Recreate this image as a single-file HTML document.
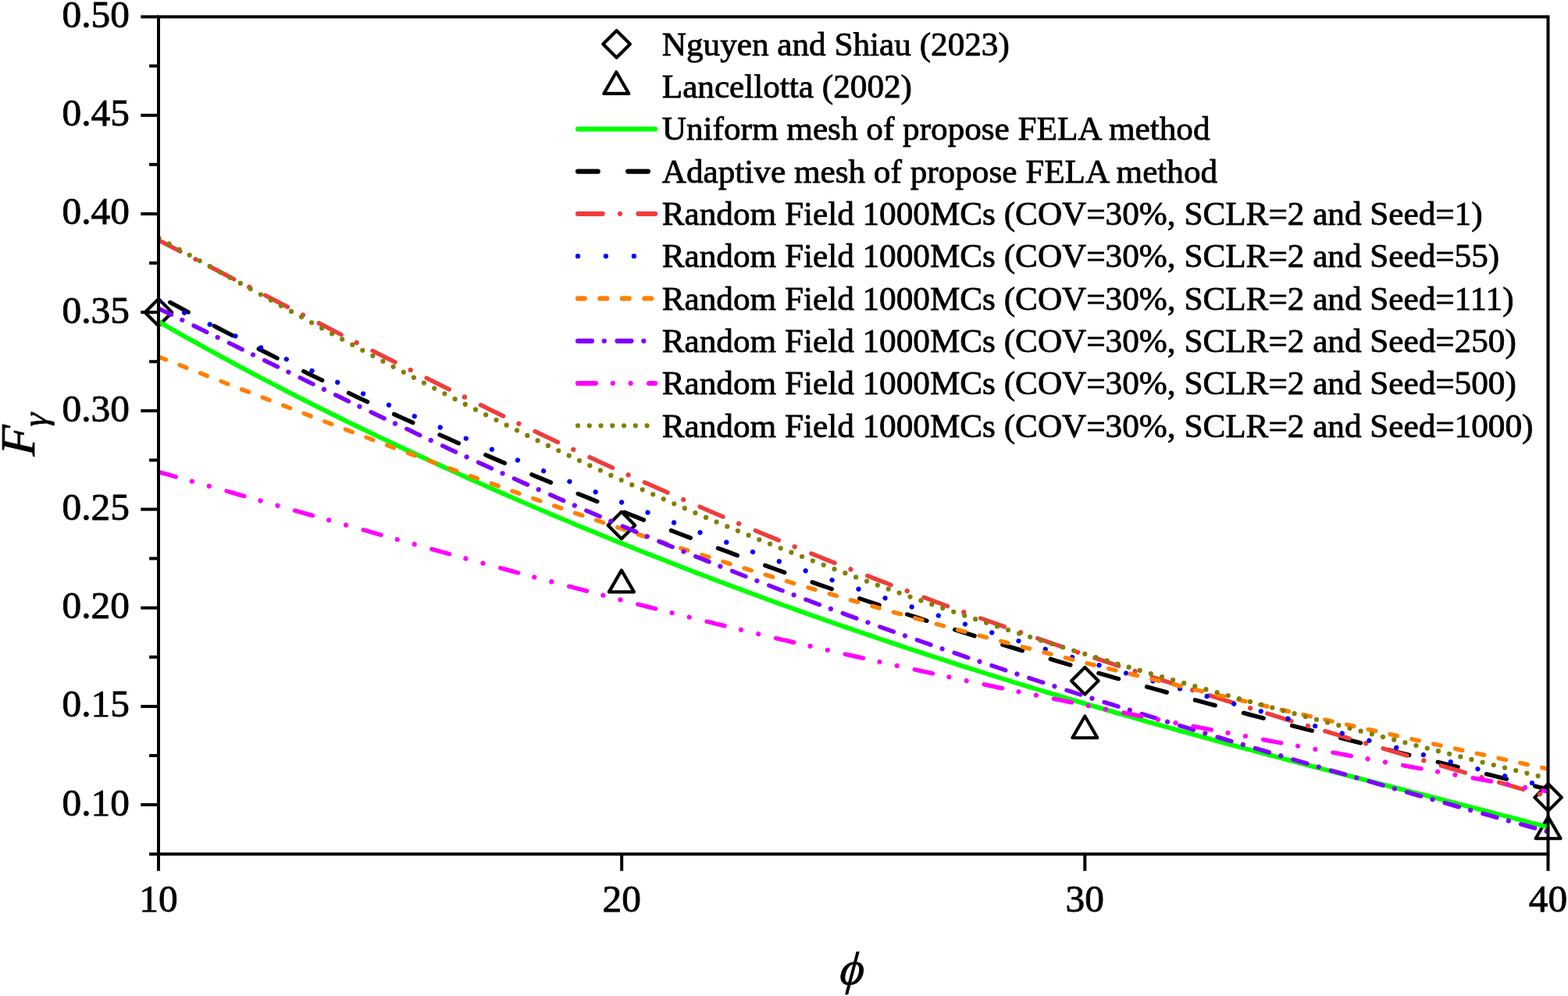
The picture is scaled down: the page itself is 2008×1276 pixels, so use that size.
<!DOCTYPE html>
<html lang="en"><head><meta charset="utf-8"><title>Fγ versus ϕ</title>
<style>html,body{margin:0;padding:0;background:#fff}svg{display:block}text{font-family:"Liberation Serif",serif;fill:#000;stroke:#000;stroke-width:0.85px;stroke-linejoin:round}</style></head><body>
<svg width="2008" height="1276" viewBox="0 0 2008 1276">
<rect width="2008" height="1276" fill="#fff"/>
<g fill="none" stroke="#000" stroke-width="4.17" stroke-linejoin="round">
<path d="M203.00 382.90L220.30 400.20L203.00 417.50L185.70 400.20Z"/>
<path d="M795.90 655.70L813.20 673.00L795.90 690.30L778.60 673.00Z"/>
<path d="M1389.30 855.00L1406.60 872.30L1389.30 889.60L1372.00 872.30Z"/>
<path d="M1982.60 1004.30L1999.90 1021.60L1982.60 1038.90L1965.30 1021.60Z"/>
<path d="M795.90 730.62L811.90 758.34L779.90 758.34Z"/>
<path d="M1389.30 917.52L1405.30 945.24L1373.30 945.24Z"/>
<path d="M1982.60 1046.52L1998.60 1074.24L1966.60 1074.24Z"/>
</g>
<clipPath id="clip"><rect x="203.0" y="21.5" width="1779.5" height="1072.7"/></clipPath>
<g fill="none" stroke-linecap="round" stroke-linejoin="round" clip-path="url(#clip)">
<path stroke="#00ff00" stroke-width="5.9" d="M203.0 412.0L215.8 419.3L228.6 426.6L241.4 433.8L254.2 440.9L267.0 448.0L279.8 454.9L292.6 461.9L305.4 468.8L318.2 475.6L331.0 482.3L343.8 489.0L356.6 495.7L369.4 502.3L382.2 508.8L395.0 515.3L407.8 521.8L420.6 528.1L433.4 534.5L446.2 540.8L459.0 547.0L471.8 553.2L484.6 559.3L497.4 565.4L510.3 571.5L523.1 577.5L535.9 583.5L548.7 589.4L561.5 595.3L574.3 601.1L587.1 606.9L599.9 612.7L612.7 618.4L625.5 624.1L638.3 629.7L651.1 635.3L663.9 640.9L676.7 646.4L689.5 651.9L702.3 657.3L715.1 662.7L727.9 668.1L740.7 673.4L753.5 678.7L766.3 684.0L779.1 689.2L791.9 694.4L804.7 699.5L817.5 704.7L830.3 709.8L843.1 714.8L855.9 719.8L868.7 724.8L881.5 729.8L894.3 734.7L907.1 739.6L919.9 744.4L932.7 749.2L945.5 754.0L958.3 758.8L971.1 763.5L983.9 768.2L996.7 772.9L1009.5 777.5L1022.3 782.1L1035.1 786.7L1047.9 791.2L1060.7 795.7L1073.5 800.2L1086.3 804.6L1099.2 809.0L1112.0 813.4L1124.8 817.8L1137.6 822.1L1150.4 826.4L1163.2 830.7L1176.0 834.9L1188.8 839.1L1201.6 843.3L1214.4 847.4L1227.2 851.6L1240.0 855.6L1252.8 859.7L1265.6 863.7L1278.4 867.8L1291.2 871.7L1304.0 875.7L1316.8 879.6L1329.6 883.5L1342.4 887.4L1355.2 891.2L1368.0 895.1L1380.8 898.9L1393.6 902.6L1406.4 906.4L1419.2 910.1L1432.0 913.8L1444.8 917.5L1457.6 921.2L1470.4 924.8L1483.2 928.4L1496.0 932.0L1508.8 935.6L1521.6 939.1L1534.4 942.6L1547.2 946.1L1560.0 949.6L1572.8 953.1L1585.6 956.6L1598.4 960.0L1611.2 963.4L1624.0 966.8L1636.8 970.2L1649.6 973.6L1662.4 977.0L1675.2 980.3L1688.1 983.7L1700.9 987.0L1713.7 990.3L1726.5 993.6L1739.3 996.9L1752.1 1000.2L1764.9 1003.5L1777.7 1006.8L1790.5 1010.1L1803.3 1013.4L1816.1 1016.7L1828.9 1019.9L1841.7 1023.2L1854.5 1026.5L1867.3 1029.8L1880.1 1033.1L1892.9 1036.4L1905.7 1039.7L1918.5 1043.0L1931.3 1046.3L1944.1 1049.6L1956.9 1053.0L1969.7 1056.4L1982.5 1059.7"/>
<path stroke="#000000" stroke-width="5.5" stroke-dasharray="26.5 37.65" stroke-dashoffset="47.33" d="M203.0 379.3L215.8 386.3L228.6 393.2L241.4 400.1L254.2 407.0L267.0 413.7L279.8 420.5L292.6 427.1L305.4 433.8L318.2 440.3L331.0 446.8L343.8 453.3L356.6 459.7L369.4 466.1L382.2 472.4L395.0 478.7L407.8 484.9L420.6 491.1L433.4 497.2L446.2 503.3L459.0 509.4L471.8 515.4L484.6 521.4L497.4 527.3L510.3 533.2L523.1 539.0L535.9 544.9L548.7 550.6L561.5 556.4L574.3 562.0L587.1 567.7L599.9 573.3L612.7 578.9L625.5 584.4L638.3 589.9L651.1 595.4L663.9 600.8L676.7 606.2L689.5 611.6L702.3 616.9L715.1 622.2L727.9 627.5L740.7 632.7L753.5 637.9L766.3 643.1L779.1 648.2L791.9 653.3L804.7 658.4L817.5 663.4L830.3 668.4L843.1 673.4L855.9 678.3L868.7 683.2L881.5 688.1L894.3 692.9L907.1 697.7L919.9 702.5L932.7 707.2L945.5 712.0L958.3 716.6L971.1 721.3L983.9 725.9L996.7 730.5L1009.5 735.1L1022.3 739.6L1035.1 744.1L1047.9 748.6L1060.7 753.0L1073.5 757.4L1086.3 761.8L1099.2 766.2L1112.0 770.5L1124.8 774.8L1137.6 779.1L1150.4 783.3L1163.2 787.5L1176.0 791.7L1188.8 795.9L1201.6 800.0L1214.4 804.1L1227.2 808.1L1240.0 812.2L1252.8 816.2L1265.6 820.2L1278.4 824.1L1291.2 828.1L1304.0 832.0L1316.8 835.8L1329.6 839.7L1342.4 843.5L1355.2 847.3L1368.0 851.1L1380.8 854.8L1393.6 858.6L1406.4 862.3L1419.2 865.9L1432.0 869.6L1444.8 873.2L1457.6 876.8L1470.4 880.4L1483.2 883.9L1496.0 887.5L1508.8 891.0L1521.6 894.5L1534.4 897.9L1547.2 901.4L1560.0 904.8L1572.8 908.2L1585.6 911.6L1598.4 915.0L1611.2 918.3L1624.0 921.7L1636.8 925.0L1649.6 928.3L1662.4 931.6L1675.2 934.9L1688.1 938.1L1700.9 941.4L1713.7 944.6L1726.5 947.8L1739.3 951.0L1752.1 954.2L1764.9 957.4L1777.7 960.6L1790.5 963.8L1803.3 967.0L1816.1 970.1L1828.9 973.3L1841.7 976.4L1854.5 979.6L1867.3 982.7L1880.1 985.9L1892.9 989.1L1905.7 992.2L1918.5 995.4L1931.3 998.5L1944.1 1001.7L1956.9 1004.9L1969.7 1008.1L1982.5 1011.3"/>
<path stroke="#f03c3c" stroke-width="5.5" stroke-dasharray="32.4 44.99" stroke-dashoffset="0.97" d="M203.0 307.7L215.8 314.3L228.6 320.9L241.4 327.5L254.2 334.1L267.0 340.7L279.8 347.3L292.6 354.0L305.4 360.6L318.2 367.3L331.0 373.9L343.8 380.5L356.6 387.2L369.4 393.8L382.2 400.5L395.0 407.1L407.8 413.7L420.6 420.3L433.4 426.9L446.2 433.5L459.0 440.1L471.8 446.6L484.6 453.2L497.4 459.7L510.3 466.2L523.1 472.7L535.9 479.1L548.7 485.6L561.5 492.0L574.3 498.4L587.1 504.7L599.9 511.1L612.7 517.4L625.5 523.7L638.3 530.0L651.1 536.2L663.9 542.4L676.7 548.6L689.5 554.7L702.3 560.8L715.1 566.9L727.9 572.9L740.7 578.9L753.5 584.9L766.3 590.9L779.1 596.8L791.9 602.7L804.7 608.5L817.5 614.3L830.3 620.1L843.1 625.8L855.9 631.5L868.7 637.2L881.5 642.8L894.3 648.4L907.1 654.0L919.9 659.5L932.7 665.0L945.5 670.5L958.3 675.9L971.1 681.3L983.9 686.6L996.7 691.9L1009.5 697.2L1022.3 702.4L1035.1 707.6L1047.9 712.8L1060.7 717.9L1073.5 723.0L1086.3 728.1L1099.2 733.1L1112.0 738.1L1124.8 743.1L1137.6 748.0L1150.4 752.9L1163.2 757.8L1176.0 762.6L1188.8 767.4L1201.6 772.2L1214.4 776.9L1227.2 781.6L1240.0 786.3L1252.8 790.9L1265.6 795.5L1278.4 800.1L1291.2 804.7L1304.0 809.2L1316.8 813.7L1329.6 818.2L1342.4 822.6L1355.2 827.0L1368.0 831.4L1380.8 835.8L1393.6 840.1L1406.4 844.4L1419.2 848.7L1432.0 853.0L1444.8 857.2L1457.6 861.4L1470.4 865.6L1483.2 869.8L1496.0 873.9L1508.8 878.1L1521.6 882.2L1534.4 886.3L1547.2 890.3L1560.0 894.4L1572.8 898.4L1585.6 902.4L1598.4 906.4L1611.2 910.4L1624.0 914.4L1636.8 918.3L1649.6 922.3L1662.4 926.2L1675.2 930.1L1688.1 934.0L1700.9 937.9L1713.7 941.7L1726.5 945.6L1739.3 949.4L1752.1 953.2L1764.9 957.1L1777.7 960.9L1790.5 964.6L1803.3 968.4L1816.1 972.2L1828.9 976.0L1841.7 979.7L1854.5 983.5L1867.3 987.2L1880.1 990.9L1892.9 994.6L1905.7 998.3L1918.5 1002.0L1931.3 1005.7L1944.1 1009.4L1956.9 1013.1L1969.7 1016.7L1982.5 1020.4"/>
<path stroke="#f03c3c" stroke-width="6.25" stroke-dasharray="0.01 77.38" stroke-dashoffset="23.92" d="M203.0 307.7L215.8 314.3L228.6 320.9L241.4 327.5L254.2 334.1L267.0 340.7L279.8 347.3L292.6 354.0L305.4 360.6L318.2 367.3L331.0 373.9L343.8 380.5L356.6 387.2L369.4 393.8L382.2 400.5L395.0 407.1L407.8 413.7L420.6 420.3L433.4 426.9L446.2 433.5L459.0 440.1L471.8 446.6L484.6 453.2L497.4 459.7L510.3 466.2L523.1 472.7L535.9 479.1L548.7 485.6L561.5 492.0L574.3 498.4L587.1 504.7L599.9 511.1L612.7 517.4L625.5 523.7L638.3 530.0L651.1 536.2L663.9 542.4L676.7 548.6L689.5 554.7L702.3 560.8L715.1 566.9L727.9 572.9L740.7 578.9L753.5 584.9L766.3 590.9L779.1 596.8L791.9 602.7L804.7 608.5L817.5 614.3L830.3 620.1L843.1 625.8L855.9 631.5L868.7 637.2L881.5 642.8L894.3 648.4L907.1 654.0L919.9 659.5L932.7 665.0L945.5 670.5L958.3 675.9L971.1 681.3L983.9 686.6L996.7 691.9L1009.5 697.2L1022.3 702.4L1035.1 707.6L1047.9 712.8L1060.7 717.9L1073.5 723.0L1086.3 728.1L1099.2 733.1L1112.0 738.1L1124.8 743.1L1137.6 748.0L1150.4 752.9L1163.2 757.8L1176.0 762.6L1188.8 767.4L1201.6 772.2L1214.4 776.9L1227.2 781.6L1240.0 786.3L1252.8 790.9L1265.6 795.5L1278.4 800.1L1291.2 804.7L1304.0 809.2L1316.8 813.7L1329.6 818.2L1342.4 822.6L1355.2 827.0L1368.0 831.4L1380.8 835.8L1393.6 840.1L1406.4 844.4L1419.2 848.7L1432.0 853.0L1444.8 857.2L1457.6 861.4L1470.4 865.6L1483.2 869.8L1496.0 873.9L1508.8 878.1L1521.6 882.2L1534.4 886.3L1547.2 890.3L1560.0 894.4L1572.8 898.4L1585.6 902.4L1598.4 906.4L1611.2 910.4L1624.0 914.4L1636.8 918.3L1649.6 922.3L1662.4 926.2L1675.2 930.1L1688.1 934.0L1700.9 937.9L1713.7 941.7L1726.5 945.6L1739.3 949.4L1752.1 953.2L1764.9 957.1L1777.7 960.9L1790.5 964.6L1803.3 968.4L1816.1 972.2L1828.9 976.0L1841.7 979.7L1854.5 983.5L1867.3 987.2L1880.1 990.9L1892.9 994.6L1905.7 998.3L1918.5 1002.0L1931.3 1005.7L1944.1 1009.4L1956.9 1013.1L1969.7 1016.7L1982.5 1020.4"/>
<path stroke="#0000ff" stroke-width="6.25" stroke-dasharray="0.01 35.9" stroke-dashoffset="35.41" d="M203.0 385.5L215.8 391.4L228.6 397.2L241.4 403.1L254.2 408.9L267.0 414.8L279.8 420.6L292.6 426.5L305.4 432.3L318.2 438.2L331.0 444.0L343.8 449.8L356.6 455.6L369.4 461.4L382.2 467.2L395.0 473.0L407.8 478.8L420.6 484.5L433.4 490.3L446.2 496.0L459.0 501.7L471.8 507.4L484.6 513.0L497.4 518.7L510.3 524.3L523.1 529.9L535.9 535.5L548.7 541.0L561.5 546.6L574.3 552.1L587.1 557.6L599.9 563.1L612.7 568.5L625.5 573.9L638.3 579.3L651.1 584.7L663.9 590.0L676.7 595.3L689.5 600.6L702.3 605.9L715.1 611.1L727.9 616.3L740.7 621.5L753.5 626.6L766.3 631.8L779.1 636.8L791.9 641.9L804.7 646.9L817.5 651.9L830.3 656.9L843.1 661.9L855.9 666.8L868.7 671.7L881.5 676.5L894.3 681.4L907.1 686.2L919.9 690.9L932.7 695.7L945.5 700.4L958.3 705.1L971.1 709.7L983.9 714.3L996.7 718.9L1009.5 723.5L1022.3 728.0L1035.1 732.5L1047.9 737.0L1060.7 741.5L1073.5 745.9L1086.3 750.3L1099.2 754.7L1112.0 759.0L1124.8 763.3L1137.6 767.6L1150.4 771.9L1163.2 776.1L1176.0 780.3L1188.8 784.5L1201.6 788.6L1214.4 792.8L1227.2 796.9L1240.0 800.9L1252.8 805.0L1265.6 809.0L1278.4 813.0L1291.2 817.0L1304.0 821.0L1316.8 824.9L1329.6 828.9L1342.4 832.8L1355.2 836.6L1368.0 840.5L1380.8 844.3L1393.6 848.1L1406.4 851.9L1419.2 855.7L1432.0 859.5L1444.8 863.2L1457.6 866.9L1470.4 870.6L1483.2 874.3L1496.0 878.0L1508.8 881.6L1521.6 885.3L1534.4 888.9L1547.2 892.5L1560.0 896.1L1572.8 899.6L1585.6 903.2L1598.4 906.7L1611.2 910.3L1624.0 913.8L1636.8 917.3L1649.6 920.8L1662.4 924.3L1675.2 927.8L1688.1 931.2L1700.9 934.7L1713.7 938.1L1726.5 941.5L1739.3 944.9L1752.1 948.4L1764.9 951.8L1777.7 955.1L1790.5 958.5L1803.3 961.9L1816.1 965.3L1828.9 968.6L1841.7 972.0L1854.5 975.3L1867.3 978.7L1880.1 982.0L1892.9 985.3L1905.7 988.6L1918.5 991.9L1931.3 995.3L1944.1 998.6L1956.9 1001.8L1969.7 1005.1L1982.5 1008.4"/>
<path stroke="#ff8000" stroke-width="5.5" stroke-dasharray="9.5 18.97" stroke-dashoffset="27.85" d="M203.0 457.1L215.8 462.1L228.6 467.1L241.4 472.1L254.2 477.1L267.0 482.2L279.8 487.2L292.6 492.2L305.4 497.2L318.2 502.1L331.0 507.1L343.8 512.1L356.6 517.1L369.4 522.0L382.2 527.0L395.0 531.9L407.8 536.9L420.6 541.8L433.4 546.7L446.2 551.6L459.0 556.4L471.8 561.3L484.6 566.1L497.4 571.0L510.3 575.8L523.1 580.6L535.9 585.3L548.7 590.1L561.5 594.8L574.3 599.5L587.1 604.2L599.9 608.9L612.7 613.5L625.5 618.1L638.3 622.7L651.1 627.3L663.9 631.9L676.7 636.4L689.5 640.9L702.3 645.4L715.1 649.8L727.9 654.3L740.7 658.7L753.5 663.1L766.3 667.4L779.1 671.7L791.9 676.0L804.7 680.3L817.5 684.6L830.3 688.8L843.1 693.0L855.9 697.2L868.7 701.3L881.5 705.4L894.3 709.5L907.1 713.6L919.9 717.6L932.7 721.6L945.5 725.6L958.3 729.6L971.1 733.5L983.9 737.4L996.7 741.3L1009.5 745.2L1022.3 749.0L1035.1 752.8L1047.9 756.6L1060.7 760.3L1073.5 764.1L1086.3 767.8L1099.2 771.5L1112.0 775.1L1124.8 778.7L1137.6 782.4L1150.4 785.9L1163.2 789.5L1176.0 793.1L1188.8 796.6L1201.6 800.1L1214.4 803.6L1227.2 807.0L1240.0 810.4L1252.8 813.9L1265.6 817.2L1278.4 820.6L1291.2 824.0L1304.0 827.3L1316.8 830.6L1329.6 833.9L1342.4 837.2L1355.2 840.4L1368.0 843.7L1380.8 846.9L1393.6 850.1L1406.4 853.3L1419.2 856.5L1432.0 859.6L1444.8 862.8L1457.6 865.9L1470.4 869.0L1483.2 872.1L1496.0 875.2L1508.8 878.3L1521.6 881.3L1534.4 884.4L1547.2 887.4L1560.0 890.4L1572.8 893.4L1585.6 896.4L1598.4 899.4L1611.2 902.4L1624.0 905.3L1636.8 908.3L1649.6 911.2L1662.4 914.1L1675.2 917.1L1688.1 920.0L1700.9 922.9L1713.7 925.8L1726.5 928.7L1739.3 931.5L1752.1 934.4L1764.9 937.3L1777.7 940.2L1790.5 943.0L1803.3 945.9L1816.1 948.7L1828.9 951.5L1841.7 954.4L1854.5 957.2L1867.3 960.0L1880.1 962.8L1892.9 965.6L1905.7 968.4L1918.5 971.2L1931.3 974.0L1944.1 976.8L1956.9 979.6L1969.7 982.4L1982.5 985.1"/>
<path stroke="#8000ff" stroke-width="5.5" stroke-dasharray="18.7 31.84" stroke-dashoffset="0.38" d="M203.0 395.1L215.8 401.4L228.6 407.6L241.4 413.9L254.2 420.2L267.0 426.5L279.8 432.8L292.6 439.0L305.4 445.3L318.2 451.6L331.0 457.9L343.8 464.2L356.6 470.4L369.4 476.7L382.2 482.9L395.0 489.2L407.8 495.4L420.6 501.6L433.4 507.8L446.2 514.0L459.0 520.1L471.8 526.3L484.6 532.4L497.4 538.5L510.3 544.6L523.1 550.6L535.9 556.7L548.7 562.7L561.5 568.7L574.3 574.7L587.1 580.6L599.9 586.5L612.7 592.4L625.5 598.3L638.3 604.1L651.1 609.9L663.9 615.7L676.7 621.4L689.5 627.1L702.3 632.8L715.1 638.5L727.9 644.1L740.7 649.7L753.5 655.3L766.3 660.8L779.1 666.3L791.9 671.7L804.7 677.2L817.5 682.6L830.3 687.9L843.1 693.3L855.9 698.6L868.7 703.8L881.5 709.1L894.3 714.3L907.1 719.4L919.9 724.6L932.7 729.7L945.5 734.7L958.3 739.8L971.1 744.8L983.9 749.7L996.7 754.7L1009.5 759.6L1022.3 764.4L1035.1 769.3L1047.9 774.1L1060.7 778.9L1073.5 783.6L1086.3 788.3L1099.2 793.0L1112.0 797.6L1124.8 802.3L1137.6 806.9L1150.4 811.4L1163.2 816.0L1176.0 820.5L1188.8 824.9L1201.6 829.4L1214.4 833.8L1227.2 838.2L1240.0 842.6L1252.8 846.9L1265.6 851.2L1278.4 855.5L1291.2 859.8L1304.0 864.0L1316.8 868.3L1329.6 872.5L1342.4 876.6L1355.2 880.8L1368.0 884.9L1380.8 889.0L1393.6 893.1L1406.4 897.2L1419.2 901.2L1432.0 905.2L1444.8 909.2L1457.6 913.2L1470.4 917.2L1483.2 921.1L1496.0 925.1L1508.8 929.0L1521.6 932.9L1534.4 936.8L1547.2 940.6L1560.0 944.5L1572.8 948.3L1585.6 952.1L1598.4 956.0L1611.2 959.7L1624.0 963.5L1636.8 967.3L1649.6 971.1L1662.4 974.8L1675.2 978.5L1688.1 982.3L1700.9 986.0L1713.7 989.7L1726.5 993.4L1739.3 997.1L1752.1 1000.7L1764.9 1004.4L1777.7 1008.1L1790.5 1011.7L1803.3 1015.4L1816.1 1019.0L1828.9 1022.6L1841.7 1026.2L1854.5 1029.9L1867.3 1033.5L1880.1 1037.1L1892.9 1040.7L1905.7 1044.2L1918.5 1047.8L1931.3 1051.4L1944.1 1055.0L1956.9 1058.5L1969.7 1062.1L1982.5 1065.6"/>
<path stroke="#8000ff" stroke-width="6.25" stroke-dasharray="0.01 50.53" stroke-dashoffset="16.77" d="M203.0 395.1L215.8 401.4L228.6 407.6L241.4 413.9L254.2 420.2L267.0 426.5L279.8 432.8L292.6 439.0L305.4 445.3L318.2 451.6L331.0 457.9L343.8 464.2L356.6 470.4L369.4 476.7L382.2 482.9L395.0 489.2L407.8 495.4L420.6 501.6L433.4 507.8L446.2 514.0L459.0 520.1L471.8 526.3L484.6 532.4L497.4 538.5L510.3 544.6L523.1 550.6L535.9 556.7L548.7 562.7L561.5 568.7L574.3 574.7L587.1 580.6L599.9 586.5L612.7 592.4L625.5 598.3L638.3 604.1L651.1 609.9L663.9 615.7L676.7 621.4L689.5 627.1L702.3 632.8L715.1 638.5L727.9 644.1L740.7 649.7L753.5 655.3L766.3 660.8L779.1 666.3L791.9 671.7L804.7 677.2L817.5 682.6L830.3 687.9L843.1 693.3L855.9 698.6L868.7 703.8L881.5 709.1L894.3 714.3L907.1 719.4L919.9 724.6L932.7 729.7L945.5 734.7L958.3 739.8L971.1 744.8L983.9 749.7L996.7 754.7L1009.5 759.6L1022.3 764.4L1035.1 769.3L1047.9 774.1L1060.7 778.9L1073.5 783.6L1086.3 788.3L1099.2 793.0L1112.0 797.6L1124.8 802.3L1137.6 806.9L1150.4 811.4L1163.2 816.0L1176.0 820.5L1188.8 824.9L1201.6 829.4L1214.4 833.8L1227.2 838.2L1240.0 842.6L1252.8 846.9L1265.6 851.2L1278.4 855.5L1291.2 859.8L1304.0 864.0L1316.8 868.3L1329.6 872.5L1342.4 876.6L1355.2 880.8L1368.0 884.9L1380.8 889.0L1393.6 893.1L1406.4 897.2L1419.2 901.2L1432.0 905.2L1444.8 909.2L1457.6 913.2L1470.4 917.2L1483.2 921.1L1496.0 925.1L1508.8 929.0L1521.6 932.9L1534.4 936.8L1547.2 940.6L1560.0 944.5L1572.8 948.3L1585.6 952.1L1598.4 956.0L1611.2 959.7L1624.0 963.5L1636.8 967.3L1649.6 971.1L1662.4 974.8L1675.2 978.5L1688.1 982.3L1700.9 986.0L1713.7 989.7L1726.5 993.4L1739.3 997.1L1752.1 1000.7L1764.9 1004.4L1777.7 1008.1L1790.5 1011.7L1803.3 1015.4L1816.1 1019.0L1828.9 1022.6L1841.7 1026.2L1854.5 1029.9L1867.3 1033.5L1880.1 1037.1L1892.9 1040.7L1905.7 1044.2L1918.5 1047.8L1931.3 1051.4L1944.1 1055.0L1956.9 1058.5L1969.7 1062.1L1982.5 1065.6"/>
<path stroke="#ff00ff" stroke-width="5.5" stroke-dasharray="23.6 67.45" stroke-dashoffset="0.57" d="M203.0 604.7L215.8 608.2L228.6 611.8L241.4 615.4L254.2 619.0L267.0 622.6L279.8 626.2L292.6 629.8L305.4 633.5L318.2 637.1L331.0 640.7L343.8 644.4L356.6 648.0L369.4 651.7L382.2 655.3L395.0 659.0L407.8 662.6L420.6 666.2L433.4 669.9L446.2 673.5L459.0 677.1L471.8 680.7L484.6 684.4L497.4 688.0L510.3 691.6L523.1 695.2L535.9 698.7L548.7 702.3L561.5 705.9L574.3 709.4L587.1 713.0L599.9 716.5L612.7 720.0L625.5 723.5L638.3 727.0L651.1 730.5L663.9 733.9L676.7 737.4L689.5 740.8L702.3 744.2L715.1 747.6L727.9 751.0L740.7 754.4L753.5 757.7L766.3 761.1L779.1 764.4L791.9 767.7L804.7 771.0L817.5 774.3L830.3 777.5L843.1 780.8L855.9 784.0L868.7 787.2L881.5 790.4L894.3 793.5L907.1 796.7L919.9 799.8L932.7 802.9L945.5 806.0L958.3 809.1L971.1 812.2L983.9 815.2L996.7 818.3L1009.5 821.3L1022.3 824.3L1035.1 827.2L1047.9 830.2L1060.7 833.1L1073.5 836.0L1086.3 839.0L1099.2 841.8L1112.0 844.7L1124.8 847.6L1137.6 850.4L1150.4 853.2L1163.2 856.1L1176.0 858.8L1188.8 861.6L1201.6 864.4L1214.4 867.1L1227.2 869.9L1240.0 872.6L1252.8 875.3L1265.6 878.0L1278.4 880.7L1291.2 883.3L1304.0 886.0L1316.8 888.6L1329.6 891.2L1342.4 893.8L1355.2 896.4L1368.0 899.0L1380.8 901.6L1393.6 904.2L1406.4 906.7L1419.2 909.3L1432.0 911.8L1444.8 914.3L1457.6 916.8L1470.4 919.3L1483.2 921.8L1496.0 924.3L1508.8 926.8L1521.6 929.2L1534.4 931.7L1547.2 934.1L1560.0 936.6L1572.8 939.0L1585.6 941.4L1598.4 943.8L1611.2 946.3L1624.0 948.7L1636.8 951.1L1649.6 953.5L1662.4 955.8L1675.2 958.2L1688.1 960.6L1700.9 963.0L1713.7 965.3L1726.5 967.7L1739.3 970.0L1752.1 972.4L1764.9 974.7L1777.7 977.1L1790.5 979.4L1803.3 981.7L1816.1 984.1L1828.9 986.4L1841.7 988.7L1854.5 991.0L1867.3 993.4L1880.1 995.7L1892.9 998.0L1905.7 1000.3L1918.5 1002.6L1931.3 1004.9L1944.1 1007.2L1956.9 1009.5L1969.7 1011.8L1982.5 1014.1"/>
<path stroke="#ff00ff" stroke-width="6.25" stroke-dasharray="0.01 91.04" stroke-dashoffset="46.48" d="M203.0 604.7L215.8 608.2L228.6 611.8L241.4 615.4L254.2 619.0L267.0 622.6L279.8 626.2L292.6 629.8L305.4 633.5L318.2 637.1L331.0 640.7L343.8 644.4L356.6 648.0L369.4 651.7L382.2 655.3L395.0 659.0L407.8 662.6L420.6 666.2L433.4 669.9L446.2 673.5L459.0 677.1L471.8 680.7L484.6 684.4L497.4 688.0L510.3 691.6L523.1 695.2L535.9 698.7L548.7 702.3L561.5 705.9L574.3 709.4L587.1 713.0L599.9 716.5L612.7 720.0L625.5 723.5L638.3 727.0L651.1 730.5L663.9 733.9L676.7 737.4L689.5 740.8L702.3 744.2L715.1 747.6L727.9 751.0L740.7 754.4L753.5 757.7L766.3 761.1L779.1 764.4L791.9 767.7L804.7 771.0L817.5 774.3L830.3 777.5L843.1 780.8L855.9 784.0L868.7 787.2L881.5 790.4L894.3 793.5L907.1 796.7L919.9 799.8L932.7 802.9L945.5 806.0L958.3 809.1L971.1 812.2L983.9 815.2L996.7 818.3L1009.5 821.3L1022.3 824.3L1035.1 827.2L1047.9 830.2L1060.7 833.1L1073.5 836.0L1086.3 839.0L1099.2 841.8L1112.0 844.7L1124.8 847.6L1137.6 850.4L1150.4 853.2L1163.2 856.1L1176.0 858.8L1188.8 861.6L1201.6 864.4L1214.4 867.1L1227.2 869.9L1240.0 872.6L1252.8 875.3L1265.6 878.0L1278.4 880.7L1291.2 883.3L1304.0 886.0L1316.8 888.6L1329.6 891.2L1342.4 893.8L1355.2 896.4L1368.0 899.0L1380.8 901.6L1393.6 904.2L1406.4 906.7L1419.2 909.3L1432.0 911.8L1444.8 914.3L1457.6 916.8L1470.4 919.3L1483.2 921.8L1496.0 924.3L1508.8 926.8L1521.6 929.2L1534.4 931.7L1547.2 934.1L1560.0 936.6L1572.8 939.0L1585.6 941.4L1598.4 943.8L1611.2 946.3L1624.0 948.7L1636.8 951.1L1649.6 953.5L1662.4 955.8L1675.2 958.2L1688.1 960.6L1700.9 963.0L1713.7 965.3L1726.5 967.7L1739.3 970.0L1752.1 972.4L1764.9 974.7L1777.7 977.1L1790.5 979.4L1803.3 981.7L1816.1 984.1L1828.9 986.4L1841.7 988.7L1854.5 991.0L1867.3 993.4L1880.1 995.7L1892.9 998.0L1905.7 1000.3L1918.5 1002.6L1931.3 1004.9L1944.1 1007.2L1956.9 1009.5L1969.7 1011.8L1982.5 1014.1"/>
<path stroke="#ff00ff" stroke-width="6.25" stroke-dasharray="0.01 91.04" stroke-dashoffset="23.67" d="M203.0 604.7L215.8 608.2L228.6 611.8L241.4 615.4L254.2 619.0L267.0 622.6L279.8 626.2L292.6 629.8L305.4 633.5L318.2 637.1L331.0 640.7L343.8 644.4L356.6 648.0L369.4 651.7L382.2 655.3L395.0 659.0L407.8 662.6L420.6 666.2L433.4 669.9L446.2 673.5L459.0 677.1L471.8 680.7L484.6 684.4L497.4 688.0L510.3 691.6L523.1 695.2L535.9 698.7L548.7 702.3L561.5 705.9L574.3 709.4L587.1 713.0L599.9 716.5L612.7 720.0L625.5 723.5L638.3 727.0L651.1 730.5L663.9 733.9L676.7 737.4L689.5 740.8L702.3 744.2L715.1 747.6L727.9 751.0L740.7 754.4L753.5 757.7L766.3 761.1L779.1 764.4L791.9 767.7L804.7 771.0L817.5 774.3L830.3 777.5L843.1 780.8L855.9 784.0L868.7 787.2L881.5 790.4L894.3 793.5L907.1 796.7L919.9 799.8L932.7 802.9L945.5 806.0L958.3 809.1L971.1 812.2L983.9 815.2L996.7 818.3L1009.5 821.3L1022.3 824.3L1035.1 827.2L1047.9 830.2L1060.7 833.1L1073.5 836.0L1086.3 839.0L1099.2 841.8L1112.0 844.7L1124.8 847.6L1137.6 850.4L1150.4 853.2L1163.2 856.1L1176.0 858.8L1188.8 861.6L1201.6 864.4L1214.4 867.1L1227.2 869.9L1240.0 872.6L1252.8 875.3L1265.6 878.0L1278.4 880.7L1291.2 883.3L1304.0 886.0L1316.8 888.6L1329.6 891.2L1342.4 893.8L1355.2 896.4L1368.0 899.0L1380.8 901.6L1393.6 904.2L1406.4 906.7L1419.2 909.3L1432.0 911.8L1444.8 914.3L1457.6 916.8L1470.4 919.3L1483.2 921.8L1496.0 924.3L1508.8 926.8L1521.6 929.2L1534.4 931.7L1547.2 934.1L1560.0 936.6L1572.8 939.0L1585.6 941.4L1598.4 943.8L1611.2 946.3L1624.0 948.7L1636.8 951.1L1649.6 953.5L1662.4 955.8L1675.2 958.2L1688.1 960.6L1700.9 963.0L1713.7 965.3L1726.5 967.7L1739.3 970.0L1752.1 972.4L1764.9 974.7L1777.7 977.1L1790.5 979.4L1803.3 981.7L1816.1 984.1L1828.9 986.4L1841.7 988.7L1854.5 991.0L1867.3 993.4L1880.1 995.7L1892.9 998.0L1905.7 1000.3L1918.5 1002.6L1931.3 1004.9L1944.1 1007.2L1956.9 1009.5L1969.7 1011.8L1982.5 1014.1"/>
<path stroke="#808000" stroke-width="6.25" d="M203.5 305.2h0M216.6 312.4h0M229.6 319.6h0M242.7 326.8h0M255.7 334.0h0M268.7 341.2h0M281.8 348.5h0M294.8 355.7h0M307.8 362.9h0M320.8 370.1h0M333.9 377.3h0M346.9 384.5h0M359.9 391.7h0M373.0 398.9h0M386.0 406.1h0M399.0 413.3h0M412.1 420.4h0M425.1 427.5h0M438.2 434.6h0M451.3 441.7h0M464.3 448.8h0M477.4 455.8h0M490.5 462.8h0M503.6 469.8h0M516.8 476.8h0M529.9 483.7h0M543.0 490.6h0M556.2 497.5h0M569.4 504.3h0M582.6 511.2h0M595.8 517.9h0M609.0 524.7h0M622.2 531.4h0M635.5 538.1h0M648.7 544.7h0M662.0 551.3h0M675.3 557.9h0M688.6 564.4h0M701.9 570.9h0M715.3 577.3h0M728.7 583.7h0M742.0 590.1h0M755.4 596.4h0M768.9 602.6h0M782.3 608.9h0M795.7 615.1h0M809.2 621.2h0M822.7 627.3h0M836.2 633.3h0M849.7 639.3h0M863.3 645.3h0M876.8 651.2h0M890.4 657.1h0M904.0 662.9h0M917.6 668.7h0M931.3 674.4h0M944.9 680.1h0M958.6 685.7h0M972.3 691.3h0M986.0 696.8h0M999.7 702.3h0M1013.4 707.7h0M1027.1 713.1h0M1040.9 718.5h0M1054.7 723.8h0M1068.5 729.0h0M1082.3 734.2h0M1096.1 739.4h0M1110.0 744.5h0M1123.8 749.5h0M1137.7 754.6h0M1151.6 759.5h0M1165.5 764.5h0M1179.4 769.4h0M1193.3 774.2h0M1207.2 779.0h0M1221.2 783.8h0M1235.1 788.5h0M1249.1 793.2h0M1263.1 797.8h0M1277.1 802.4h0M1291.0 807.0h0M1305.1 811.5h0M1319.1 816.0h0M1333.1 820.4h0M1347.1 824.8h0M1361.2 829.2h0M1375.2 833.5h0M1389.3 837.8h0M1403.4 842.1h0M1417.5 846.3h0M1431.5 850.6h0M1445.6 854.7h0M1459.7 858.9h0M1473.8 863.0h0M1488.0 867.1h0M1502.1 871.1h0M1516.2 875.2h0M1530.3 879.2h0M1544.4 883.2h0M1558.6 887.1h0M1572.7 891.1h0M1586.9 895.0h0M1601.0 898.9h0M1615.2 902.7h0M1629.3 906.6h0M1643.5 910.4h0M1657.6 914.2h0M1671.8 918.0h0M1686.0 921.8h0M1700.1 925.5h0M1714.3 929.2h0M1728.5 933.0h0M1742.6 936.7h0M1756.8 940.4h0M1771.0 944.0h0M1785.2 947.7h0M1799.4 951.3h0M1813.5 955.0h0M1827.7 958.6h0M1841.9 962.2h0M1856.1 965.8h0M1870.3 969.4h0M1884.4 972.9h0M1898.6 976.5h0M1912.8 980.1h0M1927.0 983.6h0M1941.2 987.1h0M1955.4 990.6h0M1969.6 994.1h0"/>
</g>
<g fill="none" stroke="#000" stroke-width="4.00" stroke-linecap="butt">
<rect x="203.00" y="21.50" width="1779.50" height="1072.70"/>
<path d="M191.10 1094.20H203.00M180.30 1031.10H203.00M191.10 968.00H203.00M180.30 904.90H203.00M191.10 841.80H203.00M180.30 778.70H203.00M191.10 715.60H203.00M180.30 652.50H203.00M191.10 589.40H203.00M180.30 526.30H203.00M191.10 463.20H203.00M180.30 400.10H203.00M191.10 337.00H203.00M180.30 273.90H203.00M191.10 210.80H203.00M180.30 147.70H203.00M191.10 84.60H203.00M180.30 21.50H203.00M203.00 1094.20V1115.80M796.17 1094.20V1115.80M1389.33 1094.20V1115.80M1982.50 1094.20V1115.80"/>
</g>
<g font-size="49.4">
<g text-anchor="end">
<text x="165.9" y="1044.6">0.10</text>
<text x="165.9" y="918.4">0.15</text>
<text x="165.9" y="792.2">0.20</text>
<text x="165.9" y="666.0">0.25</text>
<text x="165.9" y="539.8">0.30</text>
<text x="165.9" y="413.6">0.35</text>
<text x="165.9" y="287.4">0.40</text>
<text x="165.9" y="161.2">0.45</text>
<text x="165.9" y="35.0">0.50</text>
</g><g text-anchor="middle">
<text x="203.0" y="1168.0">10</text>
<text x="796.2" y="1168.0">20</text>
<text x="1389.3" y="1168.0">30</text>
<text x="1982.5" y="1168.0">40</text>
</g></g>
<text transform="translate(1091.4 1246.2) skewX(-5)" x="0" y="14.6" font-size="60" font-style="italic" text-anchor="middle">ϕ</text>
<text transform="translate(44.1 584.5) rotate(-90) skewX(-3)" font-size="62.5" font-style="italic">F<tspan font-size="44" dy="15.4">γ</tspan></text>
<g fill="none" stroke="#000" stroke-width="4.17" stroke-linejoin="round">
<path d="M789.60 39.20L806.90 56.50L789.60 73.80L772.30 56.50Z"/>
<path d="M789.30 92.22L805.30 119.94L773.30 119.94Z"/>
</g>
<g fill="none" stroke-linecap="round">
<path stroke="#00ff00" stroke-width="6.25" d="M740.0 165.25H839.1"/>
<path stroke="#000000" stroke-width="6.25" stroke-dasharray="25.75 38.4" stroke-dashoffset="0" d="M740.0 219.55H839.1"/>
<path stroke="#f03c3c" stroke-width="6.25" stroke-dasharray="31.65 45.74" stroke-dashoffset="0" d="M740.0 273.85H839.1"/>
<path stroke="#f03c3c" stroke-width="6.25" stroke-dasharray="0.01 77.38" stroke-dashoffset="23.32" d="M740.0 273.85H839.1"/>
<path stroke="#0000ff" stroke-width="6.25" stroke-dasharray="0.01 35.9" stroke-dashoffset="0" d="M740.0 328.15H839.1"/>
<path stroke="#ff8000" stroke-width="6.25" stroke-dasharray="8.75 19.72" stroke-dashoffset="0" d="M740.0 382.45H839.1"/>
<path stroke="#8000ff" stroke-width="6.25" stroke-dasharray="17.95 32.59" stroke-dashoffset="0" d="M740.0 436.75H839.1"/>
<path stroke="#8000ff" stroke-width="6.25" stroke-dasharray="0.01 50.53" stroke-dashoffset="16.77" d="M740.0 436.75H839.1"/>
<path stroke="#ff00ff" stroke-width="6.25" stroke-dasharray="22.85 68.2" stroke-dashoffset="0" d="M740.0 491.05H839.1"/>
<path stroke="#ff00ff" stroke-width="6.25" stroke-dasharray="0.01 91.04" stroke-dashoffset="46.27" d="M740.0 491.05H839.1"/>
<path stroke="#ff00ff" stroke-width="6.25" stroke-dasharray="0.01 91.04" stroke-dashoffset="23.47" d="M740.0 491.05H839.1"/>
<path stroke="#808000" stroke-width="6.25" stroke-dasharray="0.01 14.75" stroke-dashoffset="0" d="M740.0 545.35H839.1"/>
</g>
<g font-size="43.2">
<text x="847.8" y="70.85">Nguyen and Shiau (2023)</text>
<text x="847.8" y="125.15">Lancellotta (2002)</text>
<text x="847.8" y="179.45">Uniform mesh of propose FELA method</text>
<text x="847.8" y="233.75">Adaptive mesh of propose FELA method</text>
<text x="847.8" y="288.05">Random Field 1000MCs (COV=30%, SCLR=2 and Seed=1)</text>
<text x="847.8" y="342.35">Random Field 1000MCs (COV=30%, SCLR=2 and Seed=55)</text>
<text x="847.8" y="396.65">Random Field 1000MCs (COV=30%, SCLR=2 and Seed=111)</text>
<text x="847.8" y="450.95">Random Field 1000MCs (COV=30%, SCLR=2 and Seed=250)</text>
<text x="847.8" y="505.25">Random Field 1000MCs (COV=30%, SCLR=2 and Seed=500)</text>
<text x="847.8" y="559.55">Random Field 1000MCs (COV=30%, SCLR=2 and Seed=1000)</text>
</g>
</svg></body></html>
